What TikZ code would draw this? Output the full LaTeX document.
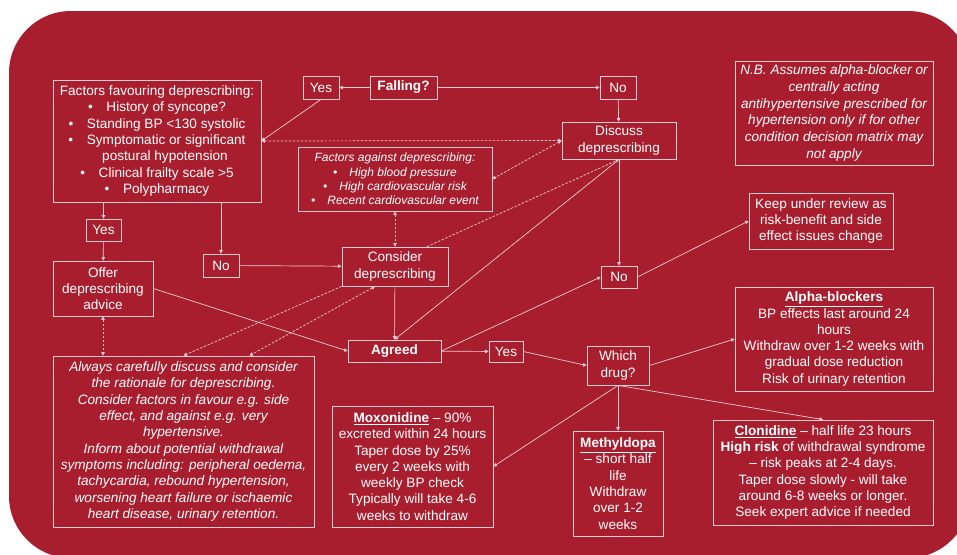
\documentclass[tikz,border=0pt]{standalone}
\usepackage{fontspec}
\setmainfont{Liberation Sans}
\usetikzlibrary{arrows.meta,positioning}
\definecolor{bgred}{RGB}{169,30,46}
\definecolor{linepink}{RGB}{240,205,210}

\begin{document}
\begin{tikzpicture}[x=1pt, y=-1pt,
    box/.style={draw=linepink, line width=0.8pt, text=white, align=center, inner sep=0pt,
        font=\fontsize{13.6}{16.3}\selectfont},
    smallbox/.style={box, font=\fontsize{12}{14.3}\selectfont\itshape},
    conn/.style={draw=linepink, line width=0.7pt, -{Triangle[length=3.5pt,width=3.5pt]}},
    dconn/.style={conn, dash pattern=on 2.5pt off 1.5pt},
    ddconn/.style={dconn, {Triangle[length=3.5pt,width=3.5pt]}-{Triangle[length=3.5pt,width=3.5pt]}}
]
    \useasboundingbox (0,0) rectangle (957,554);
    \begin{scope}
        \clip (0,0) rectangle (957,554);
        \fill[bgred, rounded corners=62pt] (9,11) rectangle (970,558);
    \end{scope}

    \node[box, minimum width=208pt, minimum height=122pt] (fav) at (157,141)
        {Factors favouring deprescribing:\\
         \textbullet\quad History of syncope?\\
         \textbullet\quad Standing BP <130 systolic\\
         \textbullet\quad Symptomatic or significant\\
         \hspace*{16pt}postural hypotension\\
         \textbullet\quad Clinical frailty scale >5\\
         \textbullet\quad Polypharmacy};
    \node[box, minimum width=36pt, minimum height=23pt] (yesA) at (321,87.5) {Yes};
    \node[box, minimum width=67pt, minimum height=23pt, font=\fontsize{13.6}{16.3}\selectfont\bfseries] (fall) at (403.5,87.5) {Falling?};
    \node[box, minimum width=36pt, minimum height=23pt] (noA) at (618,87.5) {No};
    \node[box, minimum width=114pt, minimum height=37pt] (disc) at (619,140.5) {Discuss\\ deprescribing};
    \node[smallbox, minimum width=194pt, minimum height=64pt] (against) at (395,179)
        {Factors against deprescribing:\\
         \textbullet\quad High blood pressure\\
         \textbullet\quad High cardiovascular risk\\
         \textbullet\quad Recent cardiovascular event};
    \node[box, minimum width=198pt, minimum height=104pt, font=\fontsize{13.6}{16.8}\selectfont\itshape] (nb) at (834,113)
        {N.B. Assumes alpha-blocker or\\ centrally acting\\ antihypertensive prescribed for\\
         hypertension only if for other\\ condition decision matrix may\\ not apply};
    \node[box, minimum width=35pt, minimum height=22pt] (yesB) at (103.5,230) {Yes};
    \node[box, minimum width=36pt, minimum height=23pt] (noB) at (221,265.5) {No};
    \node[box, minimum width=106pt, minimum height=39pt] (cons) at (395,266.5) {Consider\\ deprescribing};
    \node[box, minimum width=144pt, minimum height=56pt] (keep) at (821,221)
        {Keep under review as\\ risk-benefit and side\\ effect issues change};
    \node[box, minimum width=36pt, minimum height=22pt] (noC) at (619,277) {No};
    \node[box, minimum width=100pt, minimum height=55pt] (offer) at (103,288.5) {Offer\\ deprescribing\\ advice};
    \node[box, minimum width=93pt, minimum height=22pt, font=\fontsize{13.6}{16.3}\selectfont\bfseries] (agreed) at (394.5,351) {Agreed};
    \node[box, minimum width=34pt, minimum height=21pt] (yesC) at (506,351.5) {Yes};
    \node[box, minimum width=62pt, minimum height=39pt] (which) at (618,365.5) {Which\\ drug?};
    \node[box, minimum width=198pt, minimum height=104pt] (alpha) at (834,339)
        {\underline{\textbf{Alpha-blockers}}\\ BP effects last around 24\\ hours\\
         Withdraw over 1-2 weeks with\\ gradual dose reduction\\ Risk of urinary retention};
    \node[box, minimum width=261pt, minimum height=171pt, font=\fontsize{13.6}{16.3}\selectfont\itshape] (always) at (183.5,441.5)
        {Always carefully discuss and consider\\ the rationale for deprescribing.\\
         Consider factors in favour e.g. side\\ effect, and against e.g. very\\ hypertensive.\\
         Inform about potential withdrawal\\ symptoms including: peripheral oedema,\\
         tachycardia, rebound hypertension,\\ worsening heart failure or ischaemic\\
         heart disease, urinary retention.};
    \node[box, minimum width=161pt, minimum height=121pt] (moxo) at (412.5,466.5)
        {\underline{\textbf{Moxonidine}} – 90\%\\ excreted within 24 hours\\ Taper dose by 25\%\\
         every 2 weeks with\\ weekly BP check\\ Typically will take 4-6\\ weeks to withdraw};
    \node[box, minimum width=90pt, minimum height=105pt] (methyl) at (618,483.5)
        {\underline{\textbf{Methyldopa}}\\ – short half\\ life\\ Withdraw\\ over 1-2\\ weeks};
    \node[box, minimum width=220pt, minimum height=105pt] (cloni) at (823,472.5)
        {\underline{\textbf{Clonidine}} – half life 23 hours\\ \textbf{High risk} of withdrawal syndrome\\
         – risk peaks at 2-4 days.\\ Taper dose slowly - will take\\ around 6-8 weeks or longer.\\
         Seek expert advice if needed};

    \draw[conn] (fall) -- (yesA);
    \draw[conn] (fall) -- (noA);
    \draw[conn] (yesA.south) -- (fav.east);
    \draw[ddconn] (fav.east) -- (disc.west);
    \draw[ddconn] (disc.west) -- (against.east);
    \draw[conn] (noA) -- (disc);
    \draw[conn] (yesB.north |- fav.south) -- (yesB);
    \draw[conn] (yesB) -- (offer);
    \draw[conn] (noB.north |- fav.south) -- (noB);
    \draw[conn] (noB) -- (cons);
    \draw[ddconn] (against) -- (cons);
    \draw[dconn] ([xshift=32pt]cons.north) -- (disc.south);
    \draw[conn] (cons) -- (agreed);
    \draw[conn] (disc.south) -- (agreed.north);
    \draw[conn] (offer.east) -- (agreed.west);
    \draw[ddconn] (offer.south) -- (offer.south |- always.north);
    \draw[dconn] (cons.south west) -- (always.north);
    \draw[ddconn] ([xshift=-20pt]cons.south) -- ([xshift=66pt]always.north);
    \draw[conn] (disc) -- (noC);
    \draw[conn] (agreed.east) -- (noC.west);
    \draw[conn] (noC.east) -- (keep.west);
    \draw[conn] (agreed) -- (yesC);
    \draw[conn] (yesC.east) -- (which.west);
    \draw[conn] (which.east) -- (alpha.west);
    \draw[conn] (which.south) -- (cloni.north);
    \draw[conn] (which) -- (methyl);
    \draw[conn] (which.south) -- (moxo.east);
\end{tikzpicture}
\end{document}
